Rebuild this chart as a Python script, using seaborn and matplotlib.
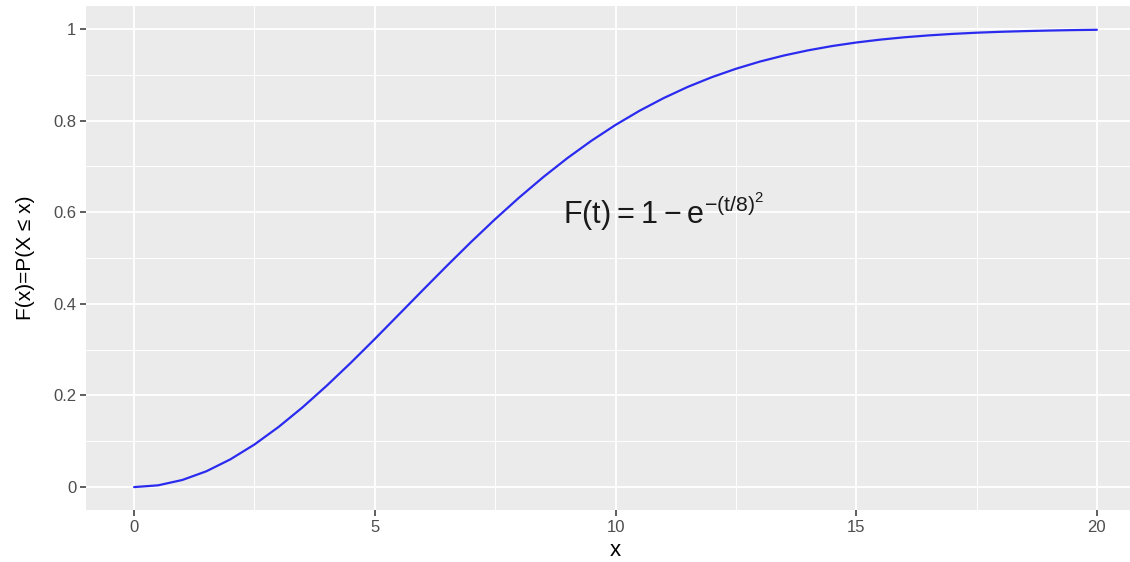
import numpy as np
import pandas as pd
import matplotlib
matplotlib.use("Agg")
import matplotlib.pyplot as plt
import seaborn as sns
from matplotlib.ticker import MultipleLocator

# valores (paso 0.5)
x_vals = [0, 0.5, 1, 1.5, 2, 2.5, 3, 3.5, 4, 4.5, 5, 5.5, 6, 6.5, 7, 7.5, 8, 8.5, 9, 9.5, 10,
          10.5, 11, 11.5, 12, 12.5, 13, 13.5, 14, 14.5, 15, 15.5, 16, 16.5, 17, 17.5, 18, 18.5,
          19, 19.5, 20]
f_vals = [0.0, 0.0039, 0.0155, 0.0345, 0.0606, 0.0930, 0.1312, 0.1742, 0.2212, 0.2712, 0.3233,
          0.3767, 0.4302, 0.4832, 0.5350, 0.5848, 0.6321, 0.6766, 0.7180, 0.7559, 0.7904,
          0.8214, 0.8490, 0.8734, 0.8946, 0.9129, 0.9287, 0.9420, 0.9532, 0.9626, 0.9703,
          0.9766, 0.9817, 0.9858, 0.9891, 0.9917, 0.9937, 0.9952, 0.9964, 0.9974, 0.9981]
x_ticks = [0, 5, 10, 15, 20]
y_ticks = [0, 0.2, 0.4, 0.6, 0.8, 1]
y_ticklabels = ["0", "0.2", "0.4", "0.6", "0.8", "1"]

sns.set_theme(style="darkgrid", rc={
    "axes.facecolor": "#EBEBEB",
    "grid.color": "white",
    "axes.edgecolor": "#EBEBEB",
})
plt.rcParams["font.family"] = ["Liberation Sans", "DejaVu Sans"]
plt.rcParams["mathtext.default"] = "regular"

df = pd.DataFrame({"x": x_vals, "F": f_vals})

fig = plt.figure(figsize=(11.3, 5.62), dpi=100)
ax = fig.add_axes([86 / 1130, 1 - 510 / 562, (1145 - 86) / 1130, (510 - 6) / 562])

sns.lineplot(data=df, x="x", y="F", color="#2B2BF0", linewidth=1.6, ax=ax)

ax.set_xlim(-1, 21)
ax.set_ylim(-0.05, 1.05)
ax.set_xticks(x_ticks)
ax.set_xticklabels([str(t) for t in x_ticks])
ax.set_yticks(y_ticks)
ax.set_yticklabels(y_ticklabels)
ax.xaxis.set_minor_locator(MultipleLocator(2.5))
ax.yaxis.set_minor_locator(MultipleLocator(0.1))
ax.grid(which="major", color="white", linewidth=1.3)
ax.grid(which="minor", color="white", linewidth=0.7)
ax.set_axisbelow(True)
for s in ax.spines.values():
    s.set_visible(False)

ax.tick_params(which="major", length=4, width=1.1, color="#333333", labelcolor="#4D4D4D",
               labelsize=12, pad=3, bottom=True, left=True)
ax.tick_params(which="minor", length=0)

ax.set_xlabel("x", fontsize=16, color="black", labelpad=4)
ax.set_ylabel("F(x)=P(X \u2264 x)", fontsize=15, color="black", labelpad=13)

ax.text(11, 0.6, r"$F(t) = 1 - e^{-(t/8)^2}$", fontsize=22, ha="center", va="center",
        color="#1A1A1A")

fig.savefig("out.png", dpi=100)
